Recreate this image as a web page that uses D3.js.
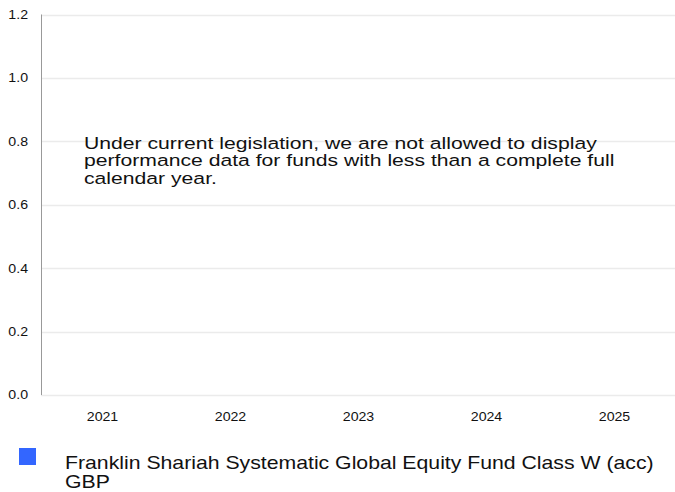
<!DOCTYPE html>
<html lang="en">
	<head>
		<meta charset="utf-8">
		<title>Calendar year performance</title>
		<script type="text/javascript" src="https://d3js.org/d3.v7.min.js"></script>
		<style type="text/css">
			body {
				margin: 0;
				background: #ffffff;
			}
			svg {
				display: block;
				font-family: "Liberation Sans", Arial, sans-serif;
			}
		</style>
	</head>
	<body>
		<div id="chart"></div>
		<script type="text/javascript">

			// data
			var years = ["2021", "2022", "2023", "2024", "2025"];
			var values = [null, null, null, null, null];   // no performance shown yet
			var yTicks = [0, 0.2, 0.4, 0.6, 0.8, 1.0, 1.2];
			var seriesName = "Franklin Shariah Systematic Global Equity Fund Class W (acc) GBP";
			var message = ["Under current legislation, we are not allowed to display",
						   "performance data for funds with less than a complete full",
						   "calendar year."];

			var w = 675, h = 492;
			var plotLeft = 41, plotTop = 14.5, plotBottom = 395;
			var stretch = 1.18;   // text in the original is drawn a bit wide

			var svg = d3.select("#chart")
						.append("svg")
						.attr("width", w)
						.attr("height", h);

			var xScale = d3.scaleBand()
							.domain(years)
							.range([38.5, 678.5]);

			var yScale = d3.scaleLinear()
							.domain([0, 1.2])
							.range([plotBottom, plotTop]);

			//gridlines
			svg.append("g")
			   .selectAll("line")
			   .data(yTicks)
			   .enter()
			   .append("line")
			   .attr("x1", plotLeft)
			   .attr("x2", w)
			   .attr("y1", function(d) { return Math.round(yScale(d)) + 0.5; })
			   .attr("y2", function(d) { return Math.round(yScale(d)) + 0.5; })
			   .attr("stroke", "#ebebeb")
			   .attr("stroke-width", 1.5);

			//y axis
			var yAxis = d3.axisLeft(yScale)
						  .tickValues(yTicks)
						  .tickFormat(d3.format(".1f"))
						  .tickSize(0)
						  .tickPadding(11);

			var gy = svg.append("g")
						.attr("transform", "translate(" + plotLeft + ",0)")
						.call(yAxis);
			gy.select(".domain").remove();
			gy.selectAll("text")
			  .attr("font-size", "12px")
			  .attr("fill", "#111")
			  .attr("transform", "scale(" + stretch + ",1)");

			svg.append("line")
			   .attr("x1", plotLeft + 0.5)
			   .attr("x2", plotLeft + 0.5)
			   .attr("y1", yScale(1.2))
			   .attr("y2", yScale(0))
			   .attr("stroke", "#999")
			   .attr("stroke-width", 1);

			//x axis
			var xAxis = d3.axisBottom(xScale)
						  .tickSize(0)
						  .tickPadding(17);

			var gx = svg.append("g")
						.attr("transform", "translate(0," + plotBottom + ")")
						.call(xAxis);
			gx.select(".domain").remove();
			gx.selectAll("text")
			  .attr("font-size", "12px")
			  .attr("fill", "#111")
			  .attr("transform", "scale(" + stretch + ",1)");

			//bars (none while values are null)
			svg.append("g")
			   .selectAll("rect")
			   .data(values.map(function(v, i) { return {year: years[i], v: v}; })
			   			   .filter(function(d) { return d.v != null; }))
			   .enter()
			   .append("rect")
			   .attr("x", function(d) { return xScale(d.year) + xScale.bandwidth() * 0.3; })
			   .attr("width", xScale.bandwidth() * 0.4)
			   .attr("y", function(d) { return yScale(Math.max(0, d.v)); })
			   .attr("height", function(d) { return Math.abs(yScale(d.v) - yScale(0)); })
			   .attr("fill", "#3366ff");

			//message
			svg.append("text")
			   .attr("transform", "translate(84,148.5) scale(1.245,1)")
			   .attr("font-size", "17px")
			   .attr("fill", "#111")
			   .selectAll("tspan")
			   .data(message)
			   .enter()
			   .append("tspan")
			   .attr("x", 0)
			   .attr("y", function(d, i) { return i * 18; })
			   .text(function(d) { return d; });

			//legend
			svg.append("rect")
			   .attr("x", 19)
			   .attr("y", 448)
			   .attr("width", 17)
			   .attr("height", 17)
			   .attr("fill", "#3366ff");

			var words = seriesName.split(" ");
			var legendLines = [words.slice(0, -1).join(" "), words[words.length - 1]];
			svg.append("text")
			   .attr("transform", "translate(65,469) scale(" + stretch + ",1)")
			   .attr("font-size", "18px")
			   .attr("fill", "#111")
			   .selectAll("tspan")
			   .data(legendLines)
			   .enter()
			   .append("tspan")
			   .attr("x", 0)
			   .attr("y", function(d, i) { return i * 19; })
			   .text(function(d) { return d; });
		</script>
	</body>
</html>
